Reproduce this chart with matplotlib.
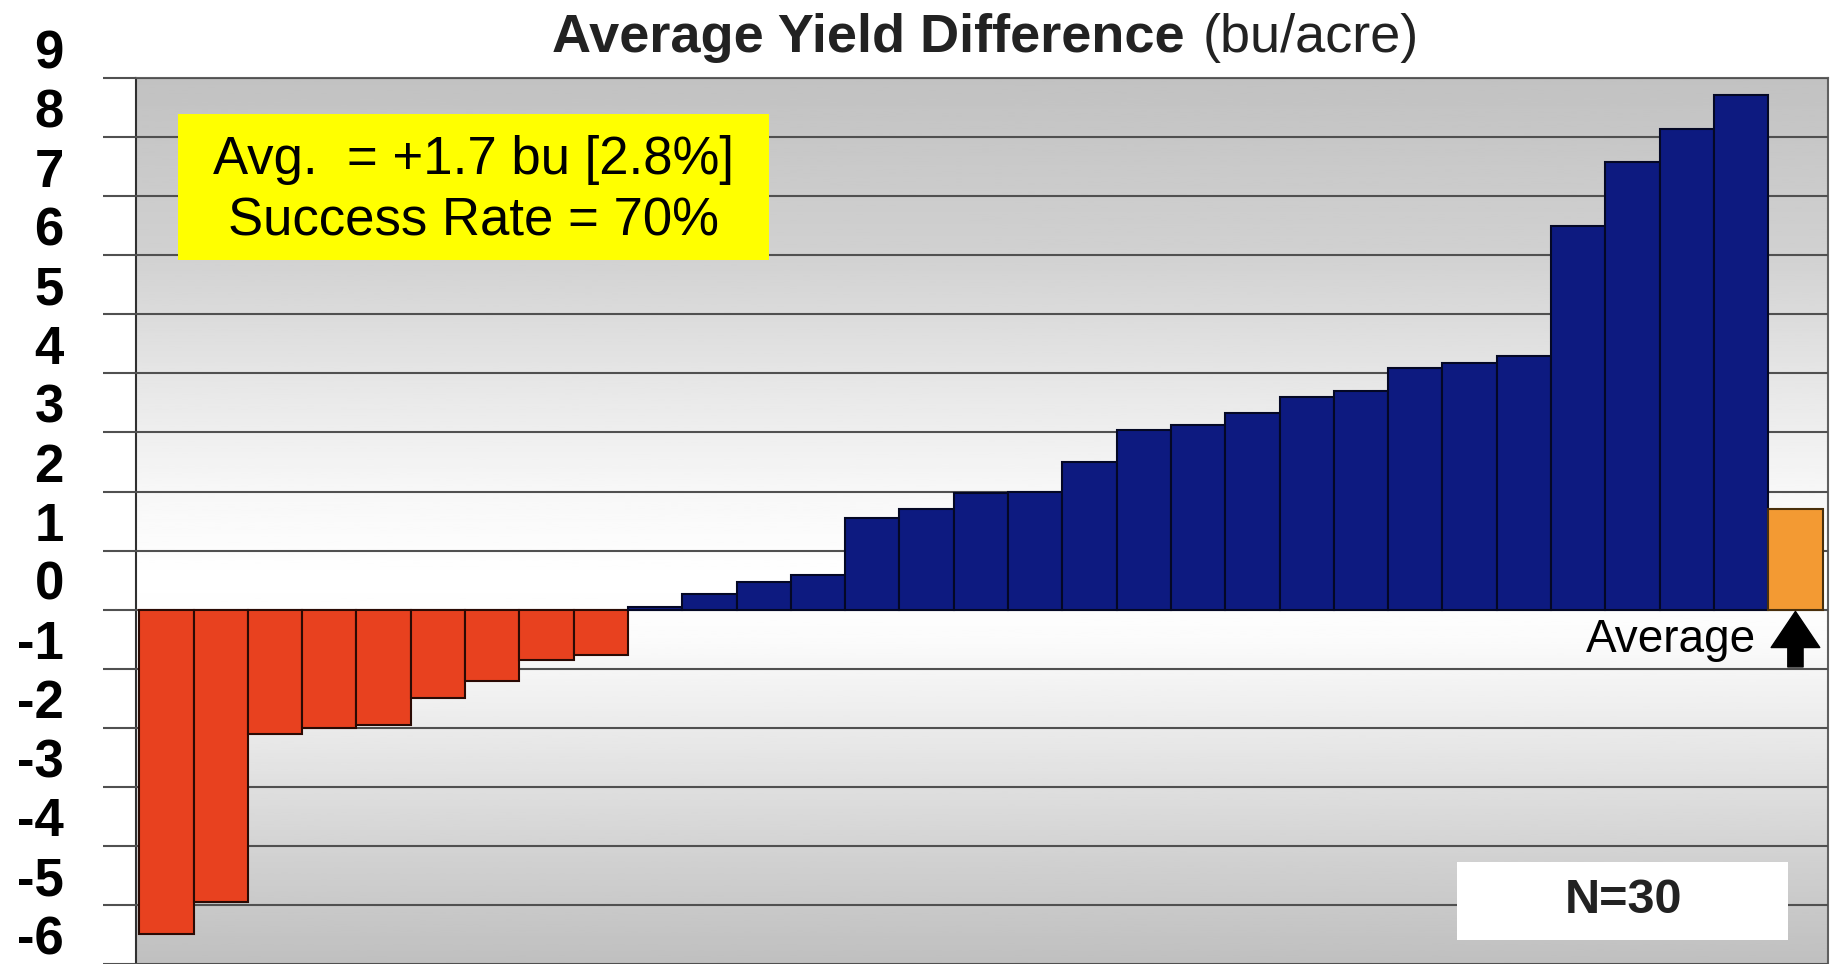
import numpy as np
import matplotlib.pyplot as plt
from matplotlib.patches import Rectangle
from matplotlib.transforms import ScaledTranslation

plt.rcParams['font.family'] = ['Liberation Sans', 'DejaVu Sans']

# yield differences per site (bu/acre), sorted
negative_values = [-5.5, -4.95, -2.1, -2.0, -1.95, -1.5, -1.2, -0.85, -0.77]
positive_values = [0.05, 0.27, 0.47, 0.58, 1.55, 1.7, 1.98, 2.0, 2.5, 3.04, 3.12,
                   3.33, 3.6, 3.7, 4.09, 4.17, 4.3, 6.5, 7.58, 8.13, 8.71]
average_value = 1.7
y_ticks = list(range(-6, 10))

red = '#E8411F'
blue = '#0D1A80'
orange = '#F39A33'

fig = plt.figure(figsize=(18.35, 9.64), dpi=100)
ax = fig.add_axes([0.0741, 0.0, 0.9221, 0.919])

# background gradient
gy = np.linspace(-6, 9, 300)
shade = np.interp(gy, [-6, -4, -2, -0.5, 0.5, 2, 4, 6, 9],
                  [0.75, 0.83, 0.92, 0.985, 1.0, 0.97, 0.90, 0.82, 0.76])
ax.imshow(shade[:, None], extent=[-0.56, 30.6, -6, 9], origin='lower',
          cmap='gray', vmin=0, vmax=1, aspect='auto', zorder=0)

n_neg = len(negative_values)
n_pos = len(positive_values)
x_neg = np.arange(n_neg)
x_pos = np.arange(n_neg, n_neg + n_pos)
x_avg = n_neg + n_pos

ax.bar(x_neg, negative_values, width=1.0, color=red, edgecolor='#2a0a04', linewidth=1.5, zorder=3)
ax.bar(x_pos, positive_values, width=1.0, color=blue, edgecolor='#040825', linewidth=1.5, zorder=3)
ax.bar([x_avg], [average_value], width=1.0, color=orange, edgecolor='#4a300c', linewidth=1.5, zorder=3)

ax.set_xlim(-0.56, 30.6)
ax.set_ylim(-6, 9)
ax.set_xticks([])
ax.set_yticks(y_ticks)
ax.set_yticklabels([str(v) for v in y_ticks], fontsize=38, fontweight='bold')
ax.tick_params(axis='y', length=24, width=1.5, color='#505050', pad=28)
offset = ScaledTranslation(0, 21 / 72, fig.dpi_scale_trans)
for lbl in ax.get_yticklabels():
    lbl.set_transform(lbl.get_transform() + offset)
ax.grid(axis='y', color='#505050', linewidth=1.5, zorder=1)
ax.set_axisbelow(False)

for side in ['top', 'right']:
    ax.spines[side].set_color('#606060')
    ax.spines[side].set_linewidth(1.5)
ax.spines['left'].set_color('#303030')
ax.spines['left'].set_linewidth(1.5)
ax.spines['bottom'].set_visible(False)

# title in two weights
fig.text(0.6455, 0.961, 'Average Yield Difference', fontsize=39, fontweight='bold',
         ha='right', va='center', color='#222222')
fig.text(0.6555, 0.961, '(bu/acre)', fontsize=39, ha='left', va='center', color='#222222')

# yellow summary box
fig.patches.append(Rectangle((0.097, 0.730), 0.322, 0.1515, transform=fig.transFigure,
                             facecolor='#FFFF00', edgecolor='none', zorder=5))
fig.text(0.258, 0.834, 'Avg.  = +1.7 bu [2.8%]', fontsize=38, ha='center', va='center', zorder=6)
fig.text(0.258, 0.770, 'Success Rate = 70%', fontsize=38, ha='center', va='center', zorder=6)

# N box
fig.patches.append(Rectangle((0.794, 0.0249), 0.1804, 0.0809, transform=fig.transFigure,
                             facecolor='white', edgecolor='none', zorder=5))
fig.text(0.8845, 0.0654, 'N=30', fontsize=35, fontweight='bold', ha='center', va='center',
         color='#222222', zorder=6)

# average marker
ax.text(x_avg - 0.72, -0.52, 'Average', fontsize=33, ha='right', va='center', zorder=6)
ax.annotate('', xy=(x_avg, -0.03), xytext=(x_avg, -0.97),
            arrowprops=dict(arrowstyle='simple,head_length=1.3,head_width=1.75,tail_width=0.55',
                            color='black', mutation_scale=20, shrinkA=0, shrinkB=0), zorder=6)

fig.savefig('out.png', dpi=100)
